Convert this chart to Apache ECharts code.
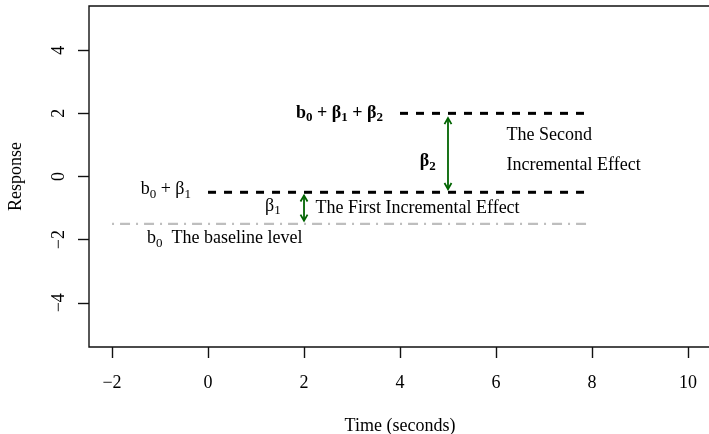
<!DOCTYPE html>
<html>
<head>
<meta charset="utf-8">
<script src="https://cdn.jsdelivr.net/npm/echarts@6/dist/echarts.min.js"></script>
<style>
  html, body { margin: 0; padding: 0; background: #fff; }
  #chart { width: 709px; height: 434px; }
</style>
</head>
<body>
<div id="chart"></div>
<script>
// Axis ranges and tick positions
const xTicks = [-2, 0, 2, 4, 6, 8, 10];
const yTicks = [-4, -2, 0, 2, 4];
const xRange = [-2.48, 10.48];
const yRange = [-5.4, 5.4];

// Response levels (start/end points in seconds, response value)
const baselineLevel = [[-2, -1.5], [8, -1.5]];
const firstLevel = [[0, -0.5], [8, -0.5]];
const secondLevel = [[4, 2], [8, 2]];

// Double-headed effect arrows: [time, from, to]
const effectArrows = [[2, -0.6, -1.4], [5, 1.85, -0.4]];

// Annotation texts and their anchor coordinates (time, response)
const noteTexts = [
  '{n|b}{s|0}{n| + β}{s|1}',
  '{n|b}{s|0}{n|  The baseline level}',
  '{n|β}{s|1}',
  '{n|The First Incremental Effect}',
  '{b|b}{bs|0}{b| + β}{bs|1}{b| + β}{bs|2}',
  '{b|β}{bs|2}',
  '{n|The Second}\n{n|Incremental Effect}'
];
const noteX = [-0.88, -1.27, 1.35, 2.24, 2.74, 4.58, 6.22];
const noteY = [-0.42, -1.97, -0.95, -1.0, 2.0, 0.47, 0.84];
const noteAlign = ['center', 'left', 'center', 'left', 'center', 'center', 'left'];

const FONT = 'Liberation Serif';
const FS = 18;
const SUB = 13;
const minus = v => (v < 0 ? '\u2212' + Math.abs(v) : String(v));

const rich = {
  n: { fontFamily: FONT, fontSize: FS, color: '#000', lineHeight: 30 },
  s: { fontFamily: FONT, fontSize: SUB, color: '#000', padding: [9, 0, 0, 0] },
  b: { fontFamily: FONT, fontSize: FS, fontWeight: 'bold', color: '#000' },
  bs: { fontFamily: FONT, fontSize: SUB, fontWeight: 'bold', color: '#000', padding: [9, 0, 0, 0] }
};

const noteData = noteTexts.map((t, i) => ({
  value: [noteX[i], noteY[i]],
  label: { formatter: t, align: noteAlign[i] }
}));

const levelLine = (data, color, width, dash) => ({
  type: 'line',
  data: data,
  symbol: 'none',
  silent: true,
  lineStyle: { color: color, width: width, type: dash, cap: 'butt' },
  z: 2
});

const chart = echarts.init(document.getElementById('chart'), null, { renderer: 'canvas' });

chart.setOption({
  animation: false,
  backgroundColor: '#fff',
  grid: {
    left: 89, top: 6, width: 622, height: 341,
    show: true, borderColor: '#111', borderWidth: 1.4,
    backgroundColor: 'transparent',
    outerBoundsMode: 'none'
  },
  xAxis: {
    type: 'value', min: xRange[0], max: xRange[1],
    axisLine: { show: false, onZero: false },
    splitLine: { show: false },
    axisTick: { show: true, length: 11, customValues: xTicks, lineStyle: { color: '#111', width: 1.4 } },
    axisLabel: {
      customValues: xTicks, margin: 27, formatter: minus,
      fontFamily: FONT, fontSize: FS, color: '#000'
    },
    name: 'Time (seconds)', nameLocation: 'middle', nameGap: 70,
    nameTextStyle: { fontFamily: FONT, fontSize: FS, color: '#000' }
  },
  yAxis: {
    type: 'value', min: yRange[0], max: yRange[1],
    axisLine: { show: false, onZero: false },
    splitLine: { show: false },
    axisTick: { show: true, length: 11, customValues: yTicks, lineStyle: { color: '#111', width: 1.4 } },
    axisLabel: {
      customValues: yTicks, margin: 21, rotate: 90, formatter: minus,
      fontFamily: FONT, fontSize: FS, color: '#000'
    },
    name: 'Response', nameLocation: 'middle', nameGap: 64, nameRotate: 90,
    nameTextStyle: { fontFamily: FONT, fontSize: FS, color: '#000' }
  },
  series: [
    levelLine(baselineLevel, '#bebebe', 2.2, [2, 6, 10, 6]),
    levelLine(firstLevel, '#000', 3, [8, 8]),
    levelLine(secondLevel, '#000', 3, [8, 8]),
    {
      type: 'custom',
      data: effectArrows,
      encode: { x: 0, y: [1, 2] },
      silent: true,
      z: 3,
      renderItem: function (params, api) {
        const x = api.value(0);
        const a = api.coord([x, api.value(1)]);
        const b = api.coord([x, api.value(2)]);
        const len = 7, ang = Math.PI / 6;
        const style = { stroke: '#006400', lineWidth: 1.8, fill: null };
        const head = (tip, from) => {
          const dx = tip[0] - from[0], dy = tip[1] - from[1];
          const d = Math.sqrt(dx * dx + dy * dy);
          const ux = dx / d, uy = dy / d;
          const rot = s => [
            tip[0] - len * (ux * Math.cos(s * ang) - uy * Math.sin(s * ang)),
            tip[1] - len * (ux * Math.sin(s * ang) + uy * Math.cos(s * ang))
          ];
          return { type: 'polyline', shape: { points: [rot(1), tip, rot(-1)] }, style: style };
        };
        return {
          type: 'group',
          children: [
            { type: 'line', shape: { x1: a[0], y1: a[1], x2: b[0], y2: b[1] }, style: style },
            head(a, b),
            head(b, a)
          ]
        };
      }
    },
    {
      type: 'scatter',
      data: noteData,
      symbolSize: 0,
      silent: true,
      z: 4,
      itemStyle: { opacity: 1 },
      label: {
        show: true,
        position: 'inside',
        verticalAlign: 'middle',
        rich: rich,
        fontFamily: FONT, fontSize: FS, color: '#000'
      }
    }
  ]
});
</script>
</body>
</html>
